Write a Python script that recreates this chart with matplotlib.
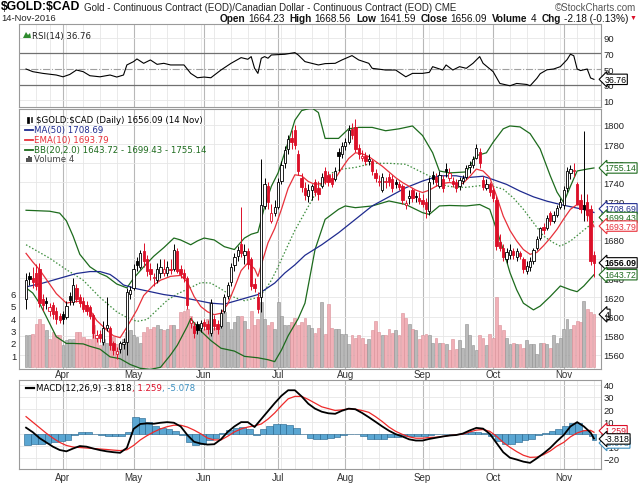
import matplotlib
matplotlib.use("Agg")
import matplotlib.pyplot as plt
import matplotlib.transforms as mtransforms
from matplotlib.lines import Line2D
from matplotlib.patches import Rectangle, Polygon
import numpy as np
import pandas as pd

plt.rcParams['font.family'] = ['Liberation Sans', 'DejaVu Sans']

# ---------------- data ----------------
trading_days = pd.bdate_range("2016-03-16", "2016-11-14")
market_holidays = pd.to_datetime(["2016-03-25", "2016-05-30", "2016-07-04", "2016-09-05"])
trading_days = trading_days[~trading_days.isin(market_holidays)]

opens = [1618, 1642, 1640, 1646, 1650, 1618, 1616, 1606, 1612, 1606,
         1601, 1603, 1600, 1622, 1615, 1630, 1620, 1616, 1612, 1610,
         1602, 1578, 1582, 1574, 1588, 1588, 1572, 1561, 1566, 1571,
         1574, 1624, 1630, 1658, 1652, 1668, 1660, 1650, 1640, 1638,
         1645, 1646, 1646, 1650, 1650, 1668, 1650, 1645, 1640, 1593,
         1590, 1592, 1588, 1594, 1592, 1583, 1598, 1592, 1590, 1606,
         1622, 1636, 1654, 1663, 1676, 1664, 1668, 1660, 1634, 1620,
         1620, 1715, 1736, 1700, 1708, 1714, 1742, 1760, 1775, 1786,
         1795, 1770, 1745, 1734, 1726, 1732, 1740, 1734, 1736, 1752,
         1748, 1745, 1744, 1772, 1770, 1778, 1782, 1796, 1798, 1776,
         1766, 1768, 1762, 1762, 1750, 1740, 1732, 1740, 1746, 1744,
         1740, 1738, 1736, 1716, 1724, 1732, 1726, 1724, 1722, 1720,
         1710, 1748, 1746, 1736, 1744, 1754, 1745, 1742, 1740, 1736,
         1742, 1746, 1756, 1758, 1766, 1772, 1743, 1734, 1738, 1732,
         1722, 1678, 1672, 1660, 1664, 1668, 1662, 1666, 1660, 1648,
         1652, 1658, 1672, 1682, 1694, 1692, 1708, 1700, 1706, 1714,
         1716, 1734, 1750, 1752, 1738, 1722, 1716, 1720, 1712, 1664.23]
highs = [1645, 1647, 1652, 1655, 1656, 1624, 1620, 1614, 1615, 1610,
         1604, 1606, 1616, 1626, 1640, 1634, 1624, 1620, 1616, 1612,
         1604, 1586, 1586, 1595, 1620, 1590, 1575, 1568, 1575, 1578,
         1630, 1632, 1655, 1662, 1670, 1677, 1664, 1656, 1646, 1656,
         1660, 1660, 1658, 1660, 1676, 1672, 1654, 1650, 1642, 1600,
         1594, 1595, 1596, 1598, 1596, 1618, 1602, 1596, 1608, 1624,
         1636, 1656, 1666, 1674, 1714, 1676, 1672, 1662, 1640, 1626,
         1765, 1745, 1740, 1718, 1722, 1745, 1762, 1778, 1790, 1795,
         1800, 1774, 1750, 1740, 1738, 1738, 1744, 1742, 1750, 1756,
         1752, 1750, 1756, 1776, 1782, 1786, 1800, 1802, 1806, 1780,
         1774, 1772, 1770, 1764, 1754, 1748, 1750, 1746, 1750, 1748,
         1744, 1742, 1738, 1722, 1732, 1734, 1730, 1730, 1728, 1724,
         1746, 1752, 1750, 1752, 1748, 1760, 1755, 1746, 1744, 1746,
         1748, 1758, 1762, 1768, 1780, 1776, 1747, 1744, 1741, 1736,
         1726, 1686, 1676, 1672, 1676, 1672, 1672, 1668, 1662, 1658,
         1662, 1672, 1684, 1694, 1698, 1706, 1710, 1710, 1716, 1724,
         1736, 1756, 1758, 1760, 1740, 1728, 1794, 1728, 1716, 1668.56]
lows = [1608, 1633, 1630, 1628, 1610, 1606, 1608, 1601, 1598, 1592,
        1593, 1592, 1597, 1612, 1612, 1615, 1610, 1605, 1602, 1598,
        1578, 1574, 1574, 1570, 1585, 1565, 1560, 1556, 1562, 1566,
        1560, 1618, 1628, 1648, 1650, 1652, 1642, 1638, 1632, 1635,
        1640, 1642, 1642, 1644, 1648, 1645, 1640, 1636, 1608, 1588,
        1578, 1582, 1584, 1586, 1582, 1580, 1586, 1582, 1588, 1604,
        1618, 1632, 1648, 1658, 1662, 1655, 1650, 1628, 1626, 1604,
        1605, 1712, 1712, 1698, 1705, 1712, 1738, 1755, 1770, 1775,
        1775, 1748, 1730, 1722, 1720, 1722, 1726, 1722, 1734, 1738,
        1736, 1735, 1742, 1752, 1766, 1774, 1780, 1785, 1772, 1765,
        1762, 1758, 1758, 1748, 1740, 1736, 1730, 1734, 1736, 1730,
        1734, 1732, 1718, 1712, 1718, 1720, 1720, 1718, 1714, 1703,
        1706, 1738, 1736, 1734, 1730, 1746, 1742, 1735, 1730, 1732,
        1738, 1744, 1750, 1755, 1764, 1755, 1732, 1732, 1726, 1720,
        1670, 1668, 1658, 1656, 1660, 1660, 1658, 1660, 1646, 1644,
        1648, 1655, 1670, 1680, 1686, 1690, 1696, 1698, 1704, 1712,
        1712, 1730, 1744, 1746, 1716, 1708, 1700, 1700, 1654, 1641.59]
closes = [1638, 1639, 1636, 1632, 1614, 1612, 1614, 1610, 1603, 1598,
          1596, 1598, 1611, 1617, 1633, 1618, 1614, 1608, 1606, 1601,
          1583, 1581, 1578, 1588, 1591, 1570, 1565, 1564, 1572, 1573,
          1626, 1628, 1650, 1654, 1666, 1658, 1648, 1644, 1641, 1650,
          1652, 1650, 1652, 1649, 1670, 1648, 1644, 1640, 1612, 1596,
          1583, 1586, 1593, 1590, 1587, 1614, 1590, 1587, 1604, 1620,
          1633, 1652, 1662, 1670, 1666, 1668, 1655, 1632, 1630, 1608,
          1716, 1738, 1720, 1708, 1714, 1740, 1758, 1774, 1785, 1782,
          1779, 1752, 1735, 1727, 1732, 1736, 1730, 1728, 1746, 1742,
          1740, 1738, 1752, 1768, 1778, 1782, 1795, 1790, 1775, 1770,
          1768, 1762, 1765, 1752, 1745, 1742, 1746, 1742, 1740, 1734,
          1738, 1735, 1722, 1719, 1726, 1724, 1725, 1721, 1718, 1712,
          1740, 1744, 1740, 1748, 1734, 1752, 1750, 1738, 1734, 1743,
          1745, 1755, 1758, 1765, 1776, 1760, 1735, 1738, 1730, 1724,
          1674, 1672, 1662, 1667, 1670, 1664, 1668, 1663, 1650, 1653,
          1658, 1670, 1681, 1692, 1690, 1703, 1700, 1706, 1713, 1720,
          1732, 1752, 1754, 1753, 1718, 1712, 1712, 1706, 1658.27, 1656.09]
volume = [2.6, 2.6, 2.7, 3.5, 3.9, 3.5, 3.0, 2.3, 2.9, 2.6,
          2.6, 1.8, 2.2, 2.3, 2.3, 2.9, 2.9, 2.5, 2.3, 2.3,
          3.4, 2.3, 1.8, 2.3, 2.0, 2.3, 2.5, 1.9, 2.0, 2.3,
          2.9, 3.0, 2.6, 2.5, 2.0, 2.9, 3.3, 3.1, 3.3, 3.4,
          3.1, 3.0, 3.1, 3.4, 3.4, 3.1, 4.5, 4.6, 4.7, 4.2,
          3.7, 3.4, 3.1, 3.1, 3.9, 5.3, 3.2, 3.1, 4.2, 4.5,
          3.7, 3.1, 3.7, 4.2, 4.2, 3.8, 3.1, 4.6, 3.4, 3.9,
          5.3, 3.9, 3.4, 3.7, 3.1, 5.3, 4.2, 3.4, 3.4, 3.7,
          4.0, 3.4, 3.7, 4.0, 3.4, 3.2, 2.8, 3.2, 5.3, 2.7,
          5.1, 3.2, 3.1, 3.1, 2.7, 2.7, 1.9, 2.6, 2.4, 2.6,
          2.4, 1.9, 2.3, 3.0, 3.8, 2.9, 2.6, 2.6, 3.1, 2.8,
          3.0, 2.6, 4.4, 4.0, 3.5, 3.1, 3.0, 2.3, 2.6, 2.7,
          2.6, 2.0, 2.4, 2.0, 2.0, 1.9, 1.4, 2.3, 1.5, 2.2,
          1.6, 3.5, 2.6, 1.8, 1.4, 2.6, 2.4, 1.8, 2.7, 2.4,
          5.7, 3.4, 3.0, 2.4, 1.9, 2.0, 1.9, 1.9, 1.6, 2.2,
          1.9, 1.9, 1.1, 2.0, 2.0, 1.9, 1.6, 2.6, 2.0, 2.4,
          3.1, 3.9, 3.1, 3.4, 3.8, 3.7, 5.4, 4.7, 4.5, 4.3]

# overlays (bar index, value)
ma50_idx = [0, 5, 10, 15, 19, 22, 25, 27, 29, 33, 37, 41, 45, 50, 55, 59, 62, 66, 69, 71,
            74, 77, 80, 83, 88, 93, 98, 103, 108, 113, 118, 123, 128, 131, 136, 139, 143, 147,
            151, 155, 159, 163, 167, 169]
ma50_val = [1631, 1635, 1640, 1645, 1647, 1647, 1644, 1639, 1633, 1629, 1626, 1623, 1621, 1617.5,
            1614, 1613, 1616, 1620, 1623, 1628, 1635, 1645.5, 1654, 1664, 1675, 1687.5, 1701.5,
            1715.5, 1725, 1734.5, 1741.5, 1747, 1747, 1745, 1746.5, 1743, 1738, 1731, 1725,
            1720.5, 1717, 1714, 1711, 1708.69]

ema10_idx = [0, 2, 4, 7, 9, 12, 14, 16, 19, 21, 24, 26, 28, 30, 33, 35, 38, 40, 43, 46, 48,
             50, 52, 54, 56, 58, 60, 62, 64, 66, 68, 69, 70, 72, 74, 76, 78, 80, 82, 84, 86,
             88, 90, 92, 94, 96, 98, 100, 102, 104, 106, 108, 110, 112, 114, 116, 118, 120,
             122, 124, 126, 128, 130, 132, 134, 136, 138, 140, 142, 144, 146, 148, 150, 152,
             154, 156, 158, 160, 162, 164, 166, 168, 169]
ema10_val = [1666, 1657, 1649, 1634, 1624, 1614, 1615.5, 1616, 1607, 1596, 1586, 1580, 1578,
             1589, 1607, 1622, 1633, 1638, 1642, 1643, 1636, 1621, 1610.5, 1605, 1602, 1603.5,
             1613, 1630, 1648, 1656, 1650, 1642, 1654, 1677, 1692, 1712, 1734, 1748, 1747,
             1741, 1738, 1739, 1741, 1744, 1755, 1765, 1771, 1770, 1767, 1762, 1757, 1751,
             1745, 1740, 1736, 1732, 1729.5, 1732, 1736, 1739, 1740, 1738.5, 1739, 1746,
             1754, 1752, 1745, 1726, 1705, 1690, 1679, 1670, 1665, 1667, 1674, 1682, 1691,
             1702, 1712, 1717, 1715.5, 1702, 1693.79]

bb_up_idx = [0, 7, 10, 12, 14, 16, 19, 22, 24, 27, 30, 32, 35, 38, 41, 44, 46, 49, 51, 53, 56,
             59, 62, 65, 67, 69, 71, 73, 75, 78, 80, 82, 85, 87, 89, 93, 96, 99, 103, 107, 111,
             115, 118, 121, 123, 126, 131, 134, 137, 139, 142, 144, 147, 150, 153, 156, 158,
             160, 162, 164, 167, 169]
bb_up_val = [1711, 1710, 1708, 1700, 1684, 1665, 1652, 1645, 1642, 1634, 1630, 1640, 1652, 1663,
             1672, 1682, 1680, 1675, 1679, 1682, 1680, 1673, 1670, 1682, 1686, 1688, 1715, 1736,
             1750, 1782, 1805, 1815, 1818, 1813, 1786, 1786, 1796, 1797.5, 1797.5, 1794, 1796,
             1799, 1789, 1771, 1752, 1750, 1751, 1768, 1771, 1782, 1796, 1799, 1798, 1791, 1775,
             1747, 1730, 1719, 1736, 1752, 1754, 1755.14]
bb_mid_idx = [0, 7, 12, 17, 22, 27, 30, 33, 36, 39, 42, 45, 48, 52, 55, 58, 62, 65, 69, 71, 73,
              75, 78, 80, 84, 88, 91, 94, 98, 103, 108, 113, 117, 121, 125, 128, 131, 136, 139,
              142, 145, 148, 151, 154, 157, 159, 162, 165, 168, 169]
bb_mid_val = [1675, 1661, 1649, 1638, 1620, 1605, 1599, 1595, 1597, 1607, 1617, 1623.6, 1628.6,
              1635.5, 1635, 1628.8, 1620, 1616.6, 1620, 1627, 1638, 1652, 1675, 1690, 1715, 1740,
              1750, 1754, 1755.7, 1760, 1760, 1759, 1752, 1745, 1736.4, 1735, 1735, 1737, 1736,
              1733, 1724, 1712, 1698, 1684, 1677, 1673.5, 1678.8, 1687.5, 1696, 1699.43]
bb_lo_idx = [0, 2, 4, 7, 9, 12, 14, 17, 19, 22, 25, 28, 31, 34, 37, 40, 43, 45, 48, 49, 52, 55,
             58, 62, 65, 69, 72, 74, 76, 78, 81, 83, 86, 89, 93, 95, 98, 103, 108, 113, 118,
             120, 123, 126, 131, 135, 138, 140, 142, 144, 146, 148, 151, 153, 156, 159, 162,
             164, 166, 169]
bb_lo_val = [1630, 1624.6, 1614, 1593, 1579, 1572, 1572, 1571.5, 1569, 1566, 1558, 1556, 1550,
             1546, 1545, 1547, 1560, 1570, 1590, 1598, 1585, 1575, 1567, 1564, 1558.5, 1557,
             1555, 1553, 1565, 1580, 1598, 1614, 1670, 1701.5, 1712, 1715.5, 1713.7, 1715.5,
             1720.7, 1717, 1708.5, 1706.7, 1715.5, 1716, 1715.5, 1717, 1712, 1691, 1670, 1646,
             1628, 1614, 1607, 1611, 1621, 1632, 1628, 1626, 1632, 1643.72]

rsi_idx = [0, 2, 5, 9, 11, 13, 15, 17, 19, 22, 25, 27, 29, 30, 32, 33, 35, 37, 39, 41, 43, 47,
           49, 51, 53, 55, 58, 61, 64, 66, 67, 68, 69, 70, 71, 72, 73, 77, 80, 81, 83, 85, 87,
           89, 92, 94, 97, 99, 102, 103, 107, 110, 113, 115, 118, 120, 121, 124, 125, 127, 129,
           131, 133, 135, 136, 139, 141, 144, 146, 149, 150, 152, 153, 155, 157, 159, 161, 162,
           163, 164, 165, 166, 167, 168, 169]
rsi_val = [50, 46.6, 44.4, 42.3, 40, 43, 48.7, 46.6, 41.4, 40, 42.3, 39.7, 42.3, 55.2, 59.5,
           62.9, 57.3, 61.6, 56, 57.3, 55.2, 55.2, 44.4, 38.8, 39.7, 38.8, 48.7, 57.3, 64.6,
           62.5, 65.9, 51, 44.4, 63.8, 65.9, 63.8, 68, 68.9, 71, 68, 59.5, 57.3, 55.2, 56.9,
           57.3, 61.6, 67.2, 61.6, 57.3, 50.9, 48.7, 48.7, 40, 44.4, 44.4, 45.7, 53, 48.7, 55.2,
           48.7, 53, 50.9, 57.3, 65.9, 57.3, 46.6, 31.5, 28.5, 31.5, 30.2, 28.5, 38, 44, 49, 50,
           53, 62, 69, 67, 50, 48, 49, 50, 38.5, 36.76]

macd_idx = list(range(0, 169, 2)) + [169]
macd_val = [5, 1.3, -3.5, -7, -10.5, -13.2, -14.3, -12, -10, -10.5,
            -12, -13.3, -14.3, -15, -15.5, -11.5, 4, 8, 8.5, 8.2,
            9, 9.5, 9, 6, -1, -6.5, -8, -8.8, -8.5, -4.5,
            1.5, 6, 9.5, 9.5, 5.5, 12, 18.5, 25, 31, 35.5,
            35.5, 30.5, 24.5, 20.5, 18, 16.7, 16.3, 18.8, 20.5, 20,
            17, 13.5, 9.8, 6, 2.5, -0.3, -2.2, -4.5, -5.5, -5.5,
            -4.2, -3.2, -2.2, -1.4, -1, 0.2, 2.7, 4.8, 4.2, 0,
            -7.5, -15, -19.5, -21, -22.7, -23.7, -20, -16, -11.5, -6,
            -1, 6, 9.5, 6, 1,
            -3.818]
signal_val = [14, 9.5, 5, 0.5, -3.5, -7, -9.5, -10.8, -11.2, -11.6,
              -12, -12.4, -12.8, -13.3, -13.7, -13, -9.5, -5, -1.5, 1.5,
              4, 5.8, 7, 7, 5.5, 3, 0, -3.5, -5, -5,
              -2, 1.5, 4, 5.5, 6.5, 8, 12, 17, 23, 28.5,
              30.5, 30.5, 28, 25, 22, 20.5, 19, 19.5, 20.3, 20,
              19, 17.5, 14, 10, 5.5, 2, -0.5, -2.5, -3.6, -3.6,
              -3, -2.8, -2.2, -1.4, -0.8, -0.2, 1.5, 3, 3.5, 2,
              -2, -7, -11, -14.5, -17.5, -19.2, -19, -17, -14, -10,
              -7, -2.5, 0.7, 2.5, 2.8,
              1.259]

# ---------------- layout ----------------
W, H = 640, 485
XMIN, XMAX = -2.1, 171.1
RED = '#dc0f28'
MA_BLUE = '#1f2b8f'
EMA_RED = '#e8303a'
BB_GREEN = '#1d6b1d'


def fx(x):
    return x / W


def fy(y):
    return 1 - y / H


def px_rect(x0, y0, x1, y1):
    return [x0 / W, 1 - y1 / H, (x1 - x0) / W, (y1 - y0) / H]


o = np.array(opens)
h = np.array(highs)
l = np.array(lows)
c = np.array(closes)
v = np.array(volume)
n = len(c)
x = np.arange(n)
prev = np.r_[c[0], c[:-1]]
down = c < prev
cand_col = np.where(down, RED, 'black')

week_starts = [i for i in range(1, len(trading_days))
               if trading_days[i].weekday() < trading_days[i - 1].weekday()]
month_starts = [i for i in range(1, len(trading_days))
                if trading_days[i].month != trading_days[i - 1].month]
month_names = [trading_days[i].strftime('%b') for i in month_starts]

fig = plt.figure(figsize=(6.4, 4.85), dpi=100)
ax_rsi = fig.add_axes(px_rect(19, 25, 601, 108))
ax_v = fig.add_axes(px_rect(19, 110, 601, 370))
ax = ax_v.twinx()
ax_macd = fig.add_axes(px_rect(19, 380.7, 601, 470))


def base_style(a, grid=True):
    for s in a.spines.values():
        s.set_color('#9a9a9a')
        s.set_linewidth(0.8)
    a.set_xlim(XMIN, XMAX)
    a.set_xticks([])
    a.tick_params(axis='y', length=0, labelsize=6.8, colors='#222222', pad=2)
    if grid:
        for i in week_starts:
            a.axvline(i, color='#e6e6e6', lw=0.6, zorder=0)
        for i in month_starts:
            a.axvline(i, color='#b8b8b8', lw=0.8, zorder=0)


# ---- RSI panel ----
base_style(ax_rsi)
ax_rsi.yaxis.tick_right()
ax_rsi.set_ylim(1.3, 107.7)
ax_rsi.set_yticks([10, 30, 50, 70, 90])
for lvl in (10, 90):
    ax_rsi.axhline(lvl, color='#e6e6e6', lw=0.6, zorder=0)
for lvl in (30, 70):
    ax_rsi.axhline(lvl, color='#707070', lw=0.9, zorder=1)
ax_rsi.axhline(50, color='#a0a0a0', lw=0.8, ls='-.', zorder=1)
ax_rsi.plot(rsi_idx, rsi_val, color='black', lw=0.8, zorder=3)

# ---- price + volume panel ----
base_style(ax_v)
ax_v.set_ylim(-0.13, 20.94)
ax_v.set_yticks([1, 2, 3, 4, 5, 6])
ax_v.yaxis.tick_left()
price_ticks = list(range(1560, 1801, 20))
ptrans = mtransforms.blended_transform_factory(ax_v.transAxes, ax.transData)
for p in price_ticks:
    ax_v.add_line(Line2D([0, 1], [p, p], transform=ptrans, color='#e6e6e6', lw=0.6, zorder=0))
vol_fc = np.where(down, '#f1b0b7', '#b9b9b9')
vol_ec = np.where(down, '#d98f97', '#8f8f8f')
ax_v.bar(x, v, width=0.85, color=vol_fc, edgecolor=vol_ec, linewidth=0.4, zorder=2)

ax.set_zorder(ax_v.get_zorder() + 1)
ax.patch.set_visible(False)
for s in ax.spines.values():
    s.set_visible(False)
ax.set_xlim(XMIN, XMAX)
ax.set_ylim(1545.3, 1816.7)
ax.set_yticks(price_ticks)
ax.tick_params(axis='y', length=0, labelsize=6.8, colors='#222222', pad=2)

ax.plot(bb_up_idx, bb_up_val, color=BB_GREEN, lw=0.9, zorder=2)
ax.plot(bb_lo_idx, bb_lo_val, color=BB_GREEN, lw=0.9, zorder=2)
ax.plot(bb_mid_idx, bb_mid_val, color='#3c8c3c', lw=0.9, ls=(0, (1.2, 1.6)), zorder=2)
ax.plot(ma50_idx, ma50_val, color=MA_BLUE, lw=0.9, zorder=2)
ax.plot(ema10_idx, ema10_val, color=EMA_RED, lw=0.9, zorder=2)

ax.vlines(x, l, h, colors=cand_col, lw=0.7, zorder=3)
body_lo = np.minimum(o, c)
body_h = np.maximum(np.abs(c - o), 0.8)
body_fc = np.where(c >= o, 'white', cand_col)
ax.bar(x, body_h, bottom=body_lo, width=0.68, color=body_fc, edgecolor=cand_col,
       linewidth=0.6, zorder=4)

# month labels: between the price and MACD panels, and under the MACD panel
tr_top = mtransforms.blended_transform_factory(ax_macd.transData, ax_macd.transAxes)
for i, name in zip(month_starts, month_names):
    ax_macd.text(i, 1.012, name, transform=tr_top, ha='center', va='bottom', fontsize=7,
                 color='#333333', clip_on=False)
    ax_macd.text(i, -0.035, name, transform=tr_top, ha='center', va='top', fontsize=7,
                 color='#333333', clip_on=False)

# ---- MACD panel ----
base_style(ax_macd)
ax_macd.yaxis.tick_right()
ax_macd.set_ylim(-28.7, 44.1)
ax_macd.set_yticks([-20, -10, 0, 10, 20, 30, 40])
for lvl in (-20, -10, 0, 10, 20, 30, 40):
    ax_macd.axhline(lvl, color='#e6e6e6', lw=0.6, zorder=0)
hist = np.array(macd_val) - np.array(signal_val)
hist_w = np.diff(macd_idx, append=170)
ax_macd.bar(np.array(macd_idx) - 0.5, hist, width=hist_w, align='edge', color='#5aa6d2',
            edgecolor='#1f5f8a', linewidth=0.4, zorder=2)
ax_macd.plot(macd_idx, signal_val, color='#ee2a2a', lw=0.9, zorder=3)
ax_macd.plot(macd_idx, macd_val, color='black', lw=1.3, zorder=4)


# ---- value tags at right ----
def tag(a, yval, text, ec, tc=None, bold=False):
    tr = mtransforms.blended_transform_factory(a.transAxes, a.transData)
    a.text(1.006, yval, text, transform=tr, fontsize=6.3, color=tc or ec, ha='left',
           va='center', fontweight='bold' if bold else 'normal', clip_on=False, zorder=20,
           bbox=dict(boxstyle='larrow,pad=0.08', fc='white', ec=ec, lw=0.8))


tag(ax_rsi, 36.76, '36.76', 'black')
tag(ax, 1755.14, '1755.14', BB_GREEN)
tag(ax, 1712.5, '1708.69', MA_BLUE)
tag(ax, 1703.5, '1699.43', BB_GREEN)
tag(ax, 1694.5, '1693.79', EMA_RED)
tag(ax, 1656.09, '1656.09', 'black', bold=True)
tag(ax, 1643.72, '1643.72', BB_GREEN)
tag(ax_v, 4.3, '4', 'black')
tag(ax_macd, -7.5, '-5.078', '#3a8fc0')
tag(ax_macd, 2.5, '1.259', RED)
tag(ax_macd, -4.2, '-3.818', 'black')

# ---- header ----
renderer = fig.canvas.get_renderer()
t_sym = fig.text(fx(1), fy(7.5), '$GOLD:$CAD', fontsize=8.8, fontweight='bold',
                 family=['Liberation Sans Narrow', 'Liberation Sans'], va='center',
                 parse_math=False)
sym_w = t_sym.get_window_extent(renderer=renderer).width
fig.text(fx(1 + sym_w + 4), fy(8), 'Gold - Continuous Contract (EOD)/Canadian Dollar - Continuous Contract (EOD) CME',
         fontsize=7, va='center', color='#222222')
fig.text(fx(636), fy(8), '\u00a9StockCharts.com', fontsize=7, ha='right', va='center', color='#555555')
fig.text(fx(1), fy(18.5), '14-Nov-2016', fontsize=6.8, va='center', color='#222222')

ohlc_parts = [('Open', 'bold', 3), ('1664.23', 'normal', 5), ('High', 'bold', 3),
              ('1668.56', 'normal', 5), ('Low', 'bold', 3), ('1641.59', 'normal', 5),
              ('Close', 'bold', 3), ('1656.09', 'normal', 5), ('Volume', 'bold', 3),
              ('4', 'normal', 5), ('Chg', 'bold', 3), ('-2.18 (-0.13%)', 'normal', 0)]
pieces = []
for s, wgt, gap in ohlc_parts:
    t = fig.text(0, fy(18.5), s, fontsize=7.2, fontweight=wgt, va='center', color='#111111')
    pieces.append((t, t.get_window_extent(renderer=renderer).width, gap))
xr = 628 - sum(wd + g for _, wd, g in pieces)
for t, wd, g in pieces:
    t.set_x(fx(xr))
    xr += wd + g
fig.text(fx(630), fy(18.5), '\u25bc', fontsize=5, color=RED, va='center')

# ---- legends ----
LEG = dict(fontsize=6.2, family=['DejaVu Sans'], va='center', parse_math=False)
fig.add_artist(Polygon([[fx(23), fy(39)], [fx(26), fy(33)], [fx(28), fy(36)], [fx(30), fy(34)],
                        [fx(31), fy(39)]], closed=True, fc='#2e8b2e', ec='none'))
fig.text(fx(32), fy(36), 'RSI(14) 36.76', color='#222222', **LEG)

fig.add_artist(Rectangle((fx(27), fy(124)), 1.6 / W, 6 / H, fc='black', ec='black', lw=0.5))
fig.add_artist(Rectangle((fx(30.5), fy(123)), 1.6 / W, 5 / H, fc='white', ec='black', lw=0.5))
fig.text(fx(36), fy(120.7), '$GOLD:$CAD (Daily) 1656.09 (14 Nov)', color='black', **LEG)
leg_rows = [(131, 'MA(50) 1708.69', MA_BLUE), (141, 'EMA(10) 1693.79', EMA_RED),
            (151, 'BB(20,2.0) 1643.72 - 1699.43 - 1755.14', BB_GREEN)]
for yy, s, col in leg_rows:
    fig.add_artist(Line2D([fx(25), fx(33)], [fy(yy), fy(yy)], color=col, lw=1.3))
    fig.text(fx(34), fy(yy), s, color=col, **LEG)
for k, hh in enumerate((4, 6, 5)):
    fig.add_artist(Rectangle((fx(26 + 2.2 * k), fy(163)), 1.5 / W, hh / H, fc='#555555', ec='none'))
fig.text(fx(34), fy(160), 'Volume 4', color='#444444', **LEG)

fig.add_artist(Line2D([fx(26), fx(34)], [fy(388.5), fy(388.5)], color='black', lw=1.6))
macd_parts = [('MACD(12,26,9) -3.818', 'black'), (', 1.259', RED), (', -5.078', '#3a8fc0')]
xl = 36
for s, col in macd_parts:
    t = fig.text(fx(xl), fy(388.5), s, color=col, **LEG)
    xl += t.get_window_extent(renderer=renderer).width

fig.savefig('out.png', dpi=100)
